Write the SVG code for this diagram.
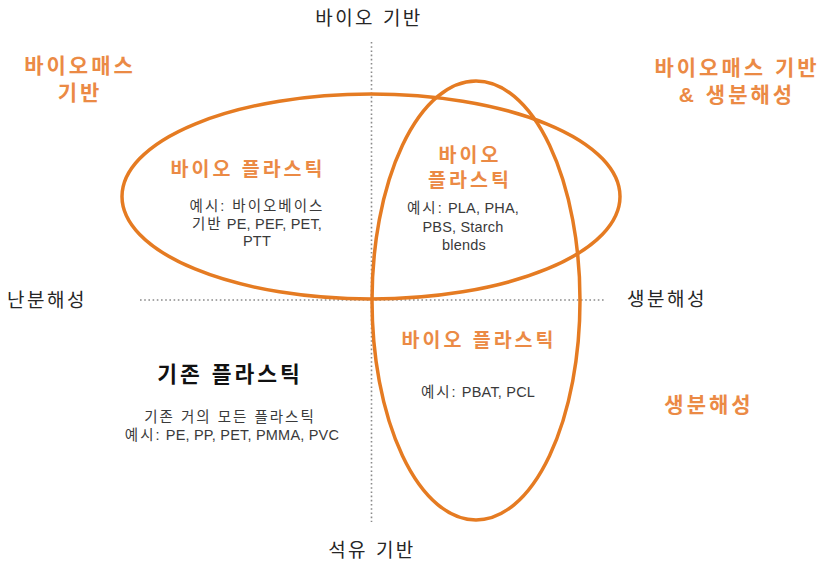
<svg xmlns="http://www.w3.org/2000/svg" width="824" height="566" viewBox="0 0 824 566">
<style>
text{font-family:"Liberation Sans","Noto Sans CJK KR",sans-serif;text-anchor:middle}
.ax{fill:#262626;font-size:19px;letter-spacing:2.5px}
.or{fill:#EB8A45;font-weight:bold;font-size:21px;letter-spacing:3px}
.ob{fill:#EB8A45;font-weight:bold;font-size:19.5px;letter-spacing:3px}
.ex{fill:#3a3a3a;font-size:14.5px;letter-spacing:0.2px}
.k{letter-spacing:2px}
.bk{fill:#111;font-weight:bold;font-size:21.5px;letter-spacing:3px}
.dot{stroke:#8a8a8a;stroke-width:1.6;stroke-dasharray:1.6 2.6;fill:none}
.ell{fill:none;stroke:#E57B22;stroke-width:3.5}
</style>
<rect width="824" height="566" fill="#fff"/>
<g id="axes">
<line class="dot" x1="371.5" y1="42" x2="371.5" y2="522"/>
<line class="dot" x1="140" y1="300" x2="604" y2="300"/>
</g>
<g id="connectors">
<ellipse id="ellipse-bio-based" class="ell" cx="371" cy="196.5" rx="249" ry="102.5"/>
<ellipse id="ellipse-biodegradable" class="ell" cx="476" cy="300.5" rx="104" ry="219.5"/>
</g>
<g id="label-top"><text class="ax" x="369" y="25">바이오 기반</text></g>
<g id="label-bottom"><text class="ax" x="372" y="557">석유 기반</text></g>
<g id="label-left"><text class="ax" x="47" y="307">난분해성</text></g>
<g id="label-right"><text class="ax" x="667" y="306">생분해성</text></g>
<g id="label-biomass"><text class="or" x="80" y="73">바이오매스</text><text class="or" x="80" y="100">기반</text></g>
<g id="label-biomass-bio"><text class="or" x="737" y="75">바이오매스 기반</text><text class="or" x="737" y="102">&amp; 생분해성</text></g>
<g id="label-biodeg"><text class="or" x="709" y="412">생분해성</text></g>
<g id="node-bio-left">
<text class="ob" x="248" y="176">바이오 플라스틱</text>
<text class="ex" x="257" y="211"><tspan class="k">예시: 바이오베이스</tspan></text>
<text class="ex" x="257" y="229"><tspan class="k">기반</tspan> PE, PEF, PET,</text>
<text class="ex" x="257" y="246">PTT</text>
</g>
<g id="node-bio-center">
<text class="ob" x="470" y="162">바이오</text>
<text class="ob" x="470" y="187">플라스틱</text>
<text class="ex" x="463" y="213"><tspan class="k">예시:</tspan> PLA, PHA,</text>
<text class="ex" x="463" y="232">PBS, Starch</text>
<text class="ex" x="464" y="250">blends</text>
</g>
<g id="node-bio-bottom">
<text class="ob" x="479" y="347">바이오 플라스틱</text>
<text class="ex" x="478" y="397"><tspan class="k">예시:</tspan> PBAT, PCL</text>
</g>
<g id="node-conventional">
<text class="bk" x="230" y="382">기존 플라스틱</text>
<text class="ex" x="230" y="422"><tspan class="k">기존 거의 모든 플라스틱</tspan></text>
<text class="ex" x="232" y="440"><tspan class="k">예시:</tspan> PE, PP, PET, PMMA, PVC</text>
</g>
</svg>
